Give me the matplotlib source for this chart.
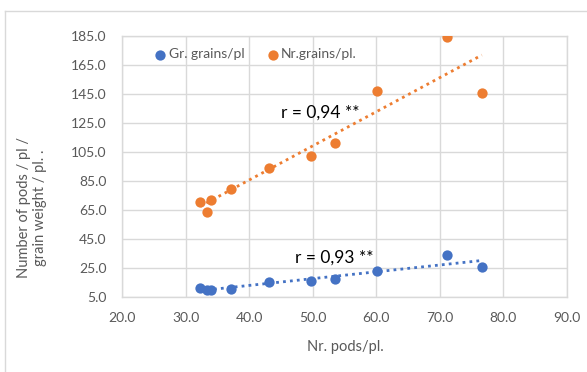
import numpy as np
import matplotlib
matplotlib.use('Agg')
import matplotlib.pyplot as plt
from matplotlib.lines import Line2D

# data
pods = [32.3, 33.4, 34.0, 37.1, 43.1, 49.7, 53.5, 60.1, 71.1, 76.6]
gr_grains = [11.0, 9.6, 10.0, 10.8, 15.1, 15.8, 17.4, 23.1, 34.2, 25.5]
nr_grains = [70.5, 63.8, 71.9, 79.7, 93.7, 102.5, 111.2, 147.1, 184.6, 145.7]

x_ticks = [20, 30, 40, 50, 60, 70, 80, 90]
y_ticks = [5, 25, 45, 65, 85, 105, 125, 145, 165, 185]

BLUE = '#4472C4'
ORANGE = '#ED7D31'
GRAY = '#595959'
GRID = '#D9D9D9'

plt.rcParams['font.family'] = ['Lato', 'DejaVu Sans']

fig = plt.figure(figsize=(5.87, 3.72), dpi=100)
ax = fig.add_axes([122/587, 1-297/372, 445/587, 261/372])

ax.scatter(pods, gr_grains, s=55, color=BLUE, zorder=3, label='Gr. grains/pl', linewidths=0)
ax.scatter(pods, nr_grains, s=55, color=ORANGE, zorder=3, label='Nr.grains/pl.', linewidths=0)

# linear trendlines
xs = np.array([min(pods), max(pods)])
for ys, c in [(gr_grains, BLUE), (nr_grains, ORANGE)]:
    k, b = np.polyfit(pods, ys, 1)
    ax.plot(xs, k * xs + b, color=c, linestyle=(0, (1, 1.5)), linewidth=2, zorder=2)

ax.text(45.0, 132, 'r = 0,94 **', fontsize=12.5, va='center', ha='left', color='black')
ax.text(47.2, 32.4, 'r = 0,93 **', fontsize=12.5, va='center', ha='left', color='black')

ax.set_xlim(20, 90)
ax.set_ylim(5, 185)
ax.set_xticks(x_ticks)
ax.set_yticks(y_ticks)
ax.set_xticklabels([f'{v:.1f}' for v in x_ticks])
ax.set_yticklabels([f'{v:.1f}' for v in y_ticks])
ax.tick_params(length=0, labelsize=10, labelcolor=GRAY)
ax.tick_params(axis='y', pad=11)
ax.tick_params(axis='x', pad=11)
ax.grid(True, color=GRID, linewidth=1)
ax.set_axisbelow(True)
for sp in ax.spines.values():
    sp.set_color(GRID)
    sp.set_linewidth(1)

leg = ax.legend(loc='center', bbox_to_anchor=(0.299, 0.93), ncol=2, frameon=False,
                fontsize=10, handletextpad=0.1, columnspacing=1.55, borderpad=0,
                handlelength=1.0, scatterpoints=1)
for t in leg.get_texts():
    t.set_color(GRAY)

fig.text(32/587, 1-208/372, 'Number of pods / pl /\ngrain weight / pl. .', rotation=90,
         ha='center', va='center', fontsize=10.5, color=GRAY, multialignment='center')
fig.text(345/587, 1-347/372, 'Nr. pods/pl.', ha='center', va='center', fontsize=10.5, color=GRAY)

# outer chart border (runs off right and bottom edges)
fig.add_artist(Line2D([4.5/587, 1.01], [1-10.5/372, 1-10.5/372], color=GRID, linewidth=1,
                      transform=fig.transFigure))
fig.add_artist(Line2D([4.5/587, 4.5/587], [1-10.5/372, -0.01], color=GRID, linewidth=1,
                      transform=fig.transFigure))

fig.savefig('out.png', dpi=100)
